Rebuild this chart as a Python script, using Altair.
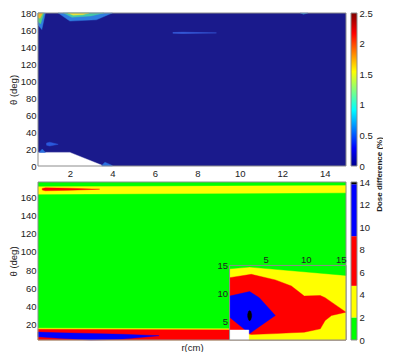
import altair as alt
import pandas as pd

# ---------------- axis ticks / domains ----------------
r_ticks = [2, 4, 6, 8, 10, 12, 14]
top_theta_ticks = [0, 20, 40, 60, 80, 100, 120, 140, 160, 180]
bot_theta_ticks = [20, 40, 60, 80, 100, 120, 140, 160]
inset_ticks = [5, 10, 15]
top_cbar_ticks = [0, 0.5, 1, 1.5, 2, 2.5]
bot_cbar_ticks = [0, 2, 4, 6, 8, 10, 12, 14]

r_domain = [0.5, 15]
top_theta_domain = [0, 180]
bot_theta_domain = [2.5, 177.5]
inset_theta_domain = [1.6, 15]
top_cbar_domain = [0, 2.5]
bot_cbar_domain = [0, 14]

# ---------------- top panel regions (jet map, 0-2.5 %) ----------------
nan_r = [0.5, 2.0, 3.6]
nan_lo = [0, 0, 0]
nan_hi = [16, 16, 0]

band1_r = [1.45, 2.0, 3.25, 4.0]
band1_lo = [180, 170.5, 172, 180]
band1_hi = [180, 180, 180, 180]
band2_r = [1.7, 2.1, 3.0, 3.6]
band2_lo = [180, 175, 176.5, 180]
band2_hi = [180, 180, 180, 180]
band3_r = [1.9, 2.15, 2.6, 2.9]
band3_lo = [180, 177.5, 178, 180]
band3_hi = [180, 180, 180, 180]

spike1_r = [0.5, 0.68, 0.85]
spike1_lo = [166, 160.5, 180]
spike1_hi = [180, 180, 180]
spike2_r = [0.5, 0.62, 0.78]
spike2_lo = [170, 167, 180]
spike2_hi = [180, 180, 180]
spike3_r = [0.5, 0.6, 0.72]
spike3_lo = [175, 173.5, 180]
spike3_hi = [180, 180, 180]

streak_r = [6.85, 7.3, 8.9]
streak_lo = [156.2, 155.9, 156.6]
streak_hi = [157.0, 157.4, 156.6]

blob_r = [0.9, 1.05, 1.45]
blob_lo = [24.5, 23.5, 25.5]
blob_hi = [27, 28, 25.5]

spot1_r = [0.55, 0.7, 0.85]
spot1_lo = [16, 16, 16]
spot1_hi = [16, 20, 16]
spot2_r = [3.5, 3.65, 4.0]
spot2_lo = [0, 0, 0]
spot2_hi = [0.5, 4.5, 0.5]
spot3_r = [12.85, 13.0, 13.2]
spot3_lo = [180, 178.5, 180]
spot3_hi = [180, 180, 180]

# ---------------- bottom panel regions (0-14 %) ----------------
btop_y_r = [0.5, 15]
btop_y_lo = [164, 165.5]
btop_y_hi = [172.3, 173.5]

btop_red_r = [0.7, 0.85, 2.0, 3.4]
btop_red_lo = [168.6, 167.8, 168.3, 169.5]
btop_red_hi = [170.4, 171.0, 170.6, 169.5]

bbot_y_r = [0.5, 15]
bbot_y_lo = [2.5, 2.5]
bbot_y_hi = [15.6, 14.6]

bbot_red_r = [0.5, 15]
bbot_red_lo = [2.5, 2.5]
bbot_red_hi = [14.3, 13.4]

bbot_blue_r = [0.5, 1.5, 3.0, 4.5, 6.2]
bbot_blue_lo = [6.0, 4.5, 2.5, 3.5, 7.3]
bbot_blue_hi = [11.3, 10.5, 9.7, 8.8, 7.3]

# ---------------- inset regions ----------------
in_green_r = [0.5, 3.0, 15]
in_green_lo = [14.4, 14.7, 13.2]
in_green_hi = [15, 15, 15]

in_red_r = [0.5, 3.2, 6.2, 8.2, 9.8, 11.8, 12.4, 13.2, 15]
in_red_lo = [3.4, 2.6, 2.75, 2.9, 3.0, 3.6, 5.1, 6.0, 6.6]
in_red_hi = [12.8, 13.4, 12.4, 11.3, 9.5, 9.6, 9.2, 8.4, 6.6]

in_blue_r = [0.5, 3.0, 4.2, 6.2]
in_blue_lo = [5.7, 2.75, 4.0, 6.0]
in_blue_hi = [9.5, 10.3, 9.2, 6.0]

in_black_r = [2.75, 2.85, 3.0, 3.15, 3.25]
in_black_lo = [5.8, 5.3, 5.0, 5.3, 5.8]
in_black_hi = [6.2, 6.7, 6.9, 6.7, 6.2]

in_white_r = [0.5, 2.9]
in_white_lo = [1.6, 1.6]
in_white_hi = [3.4, 3.4]

# colour bar of bottom panel
cb2_band = ["g", "y", "r", "b", "k"]
cb2_lo = [0, 2.0, 4.8, 9.2, 13.8]
cb2_hi = [2.0, 4.8, 9.2, 13.8, 14]

# ---------------- styling / layout ----------------
NAVY = "#1a1a8c"
GREEN = "#00ff00"
YELLOW = "#ffff00"
RED = "#ff0000"
BLUE = "#0000ff"
BLACK = "#000000"
FRAME = "#8c8c8c"
FONT = "Liberation Sans"

W, H1, H2, GAP, CBW, CBGAP = 308, 153, 158, 16, 6, 5
VW = W + CBGAP + CBW
VH = H1 + GAP + H2
B0 = H1 + GAP               # top of bottom panel
IX0 = 0.622 * W             # inset left
IY0 = B0 + 0.528 * H2       # inset top


def lin(domain, rng):
    return alt.Scale(domain=domain, range=rng, nice=False, zero=False)


xs_main = lin(r_domain, [0, W])
ys_top = lin(top_theta_domain, [H1, 0])
ys_bot = lin(bot_theta_domain, [VH, B0])
xs_in = lin(r_domain, [IX0, W])
ys_in = lin(inset_theta_domain, [VH, IY0])
xs_cb = lin([0, 1], [W + CBGAP, VW])
ys_cb1 = lin(top_cbar_domain, [H1, 0])
ys_cb2 = lin(bot_cbar_domain, [VH, B0])

# axes (the same definition is given to every layer of a panel)
ax_top_x = alt.Axis(orient="bottom", offset=-(GAP + H2), values=r_ticks, title=None, labelPadding=2)
ax_top_y = alt.Axis(orient="left", values=top_theta_ticks, title="θ (deg)", labelPadding=2, titlePadding=2)
ax_bot_x = alt.Axis(orient="bottom", values=r_ticks, title="r(cm)", labels=False, titlePadding=2)
ax_bot_y = alt.Axis(orient="left", values=bot_theta_ticks, title="θ (deg)", labelPadding=2, titlePadding=2)
ax_in_x = alt.Axis(orient="top", offset=-IY0, values=inset_ticks, title=None, labelPadding=1, zindex=5)
ax_in_y = alt.Axis(orient="left", offset=-IX0, values=inset_ticks, title=None, labelPadding=2, zindex=5)
ax_cb_x = alt.Axis(orient="bottom", labels=False, title=None, values=[])
ax_cb1_y = alt.Axis(orient="right", values=top_cbar_ticks, format=".1~f", title=None, labelPadding=2)
ax_cb2_y = alt.Axis(orient="right", values=bot_cbar_ticks, labelPadding=2,
                    title="Dose difference (%)", titleAngle=270, titleAlign="center",
                    titleBaseline="top", titleX=18, titleY=H1 + GAP / 2, titleFontSize=8,
                    titleFontWeight="bold")


def region(r, lo, hi, color, xs, ys, xa, ya):
    df = pd.DataFrame({"r": r, "lo": lo, "hi": hi})
    return alt.Chart(df).mark_area(
        color=color, opacity=1, stroke=color, strokeWidth=0.4, interpolate="linear"
    ).encode(
        x=alt.X("r:Q", scale=xs, axis=xa),
        y=alt.Y("lo:Q", scale=ys, axis=ya),
        y2="hi:Q",
    )


def box(rr, tt, xs, ys, xa, ya, **mark):
    df = pd.DataFrame({"r0": [rr[0]], "r1": [rr[1]], "t0": [tt[0]], "t1": [tt[1]]})
    return alt.Chart(df).mark_rect(**mark).encode(
        x=alt.X("r0:Q", scale=xs, axis=xa),
        x2="r1:Q",
        y=alt.Y("t0:Q", scale=ys, axis=ya),
        y2="t1:Q",
    )


def frame(rr, tt, xs, ys, xa, ya):
    return box(rr, tt, xs, ys, xa, ya, filled=False, stroke=FRAME, strokeWidth=1)


# ---------------- top panel ----------------
T = (xs_main, ys_top, ax_top_x, ax_top_y)
top = alt.layer(
    box(r_domain, top_theta_domain, *T, color=NAVY),
    region(nan_r, nan_lo, nan_hi, "#ffffff", *T),
    region(band1_r, band1_lo, band1_hi, "#2f7ee0", *T),
    region(band2_r, band2_lo, band2_hi, "#45c8a8", *T),
    region(band3_r, band3_lo, band3_hi, "#e8e43a", *T),
    region(spike1_r, spike1_lo, spike1_hi, "#2f7ee0", *T),
    region(spike2_r, spike2_lo, spike2_hi, "#55d080", *T),
    region(spike3_r, spike3_lo, spike3_hi, "#f0b828", *T),
    region(streak_r, streak_lo, streak_hi, "#3a66e6", *T),
    region(blob_r, blob_lo, blob_hi, "#2a58dc", *T),
    region(spot1_r, spot1_lo, spot1_hi, "#2a70e0", *T),
    region(spot2_r, spot2_lo, spot2_hi, "#2a70e0", *T),
    region(spot3_r, spot3_lo, spot3_hi, "#2a90e0", *T),
    frame(r_domain, top_theta_domain, *T),
)

# ---------------- colour bars ----------------
jet = {
    "gradient": "linear",
    "x1": 0, "y1": 1, "x2": 0, "y2": 0,
    "stops": [
        {"offset": 0.0, "color": "#00008f"},
        {"offset": 0.117, "color": "#0000ff"},
        {"offset": 0.367, "color": "#00ffff"},
        {"offset": 0.617, "color": "#ffff00"},
        {"offset": 0.867, "color": "#ff0000"},
        {"offset": 1.0, "color": "#800000"},
    ],
}
C1 = (xs_cb, ys_cb1, ax_cb_x, ax_cb1_y)
top_cb = alt.layer(
    box([0, 1], top_cbar_domain, *C1, fill=jet),
    frame([0, 1], top_cbar_domain, *C1),
)

C2 = (xs_cb, ys_cb2, ax_cb_x, ax_cb2_y)
cb2_df = pd.DataFrame({"band": cb2_band, "r0": 0, "r1": 1, "t0": cb2_lo, "t1": cb2_hi})
bot_cb = alt.layer(
    alt.Chart(cb2_df).mark_rect().encode(
        x=alt.X("r0:Q", scale=xs_cb, axis=ax_cb_x),
        x2="r1:Q",
        y=alt.Y("t0:Q", scale=ys_cb2, axis=ax_cb2_y),
        y2="t1:Q",
        color=alt.Color("band:N", scale=alt.Scale(domain=cb2_band, range=[GREEN, YELLOW, RED, BLUE, BLACK]),
                        legend=None),
    ),
    frame([0, 1], bot_cbar_domain, *C2),
)

# ---------------- bottom panel ----------------
B = (xs_main, ys_bot, ax_bot_x, ax_bot_y)
bot_main = alt.layer(
    box(r_domain, bot_theta_domain, *B, color=GREEN),
    region(btop_y_r, btop_y_lo, btop_y_hi, YELLOW, *B),
    region(btop_red_r, btop_red_lo, btop_red_hi, RED, *B),
    region(bbot_y_r, bbot_y_lo, bbot_y_hi, YELLOW, *B),
    region(bbot_red_r, bbot_red_lo, bbot_red_hi, RED, *B),
    region(bbot_blue_r, bbot_blue_lo, bbot_blue_hi, BLUE, *B),
    frame(r_domain, bot_theta_domain, *B),
)

I = (xs_in, ys_in, ax_in_x, ax_in_y)
inset = alt.layer(
    box(r_domain, inset_theta_domain, *I, color=YELLOW),
    region(in_green_r, in_green_lo, in_green_hi, GREEN, *I),
    region(in_red_r, in_red_lo, in_red_hi, RED, *I),
    region(in_blue_r, in_blue_lo, in_blue_hi, BLUE, *I),
    region(in_black_r, in_black_lo, in_black_hi, BLACK, *I),
    region(in_white_r, in_white_lo, in_white_hi, "#ffffff", *I),
    frame(r_domain, inset_theta_domain, *I),
)

chart = alt.layer(top, top_cb, bot_main, inset, bot_cb).resolve_scale(
    x="independent", y="independent"
).resolve_axis(
    x="independent", y="independent"
).properties(
    width=VW, height=VH, padding=0, background="white"
).configure_view(stroke=None).configure_axis(
    grid=False, ticks=False, domain=False, zindex=1,
    labelFont=FONT, titleFont=FONT, labelFontSize=9.5, titleFontSize=9.5,
    labelColor="#222222", titleColor="#222222", titleFontWeight="normal",
)

chart.save("out.html", embed_options={"renderer": "svg", "actions": False})
